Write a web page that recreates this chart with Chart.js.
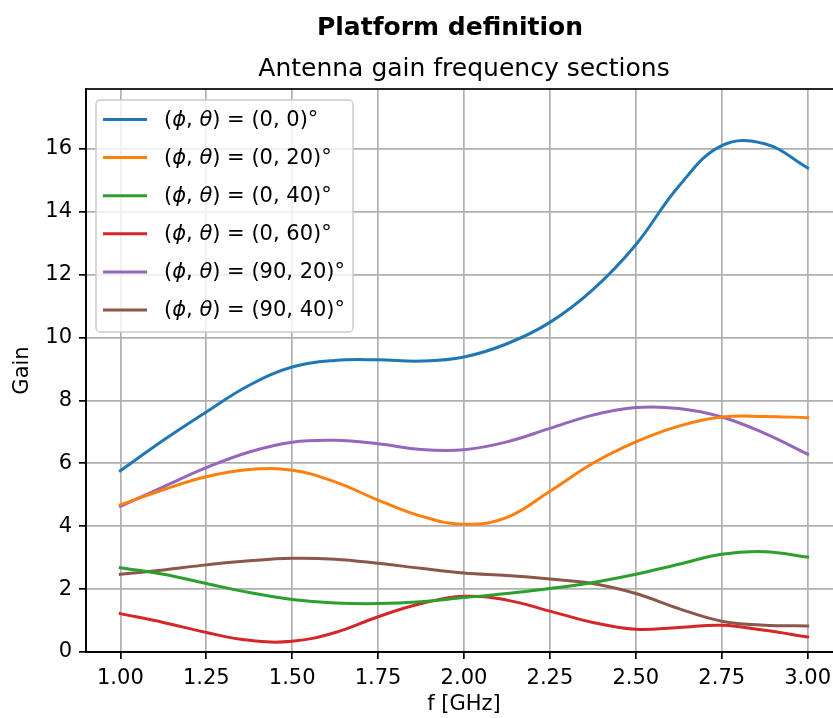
<!DOCTYPE html>
<html lang="en">
<head>
<meta charset="UTF-8">
<title>Platform definition</title>
<script src="https://cdn.jsdelivr.net/npm/chart.js"></script>
<style>
    html, body {
        margin: 0;
        padding: 0;
        background: #fff;
        overflow: hidden;
    }
    .chart-box {
        position: relative;
        width: 900px;  /* wider than the window: right edge of the axes is cut off like the reference */
        height: 718px;
    }
</style>
</head>
<body>
<div class="chart-box"><canvas id="gainChart"></canvas></div>
<script>
    // frequency samples [GHz]
    const freqs = [1.0, 1.125, 1.25, 1.375, 1.5, 1.625, 1.75, 1.875, 2.0,
                   2.125, 2.25, 2.375, 2.5, 2.625, 2.75, 2.875, 3.0];

    // gain per (phi, theta) cut
    const gain_0_0   = [5.76, 6.73, 7.63, 8.48, 9.06, 9.27, 9.29, 9.25, 9.38, 9.80, 10.48, 11.52, 12.95, 14.81, 16.10, 16.16, 15.39];
    const gain_0_20  = [4.68, 5.16, 5.57, 5.80, 5.78, 5.41, 4.83, 4.32, 4.06, 4.28, 5.11, 6.00, 6.68, 7.18, 7.47, 7.49, 7.45];
    const gain_0_40  = [2.68, 2.47, 2.18, 1.89, 1.67, 1.56, 1.54, 1.60, 1.73, 1.86, 2.02, 2.21, 2.47, 2.79, 3.11, 3.19, 3.02];
    const gain_0_60  = [1.22, 0.94, 0.62, 0.37, 0.34, 0.62, 1.12, 1.54, 1.77, 1.65, 1.30, 0.94, 0.72, 0.78, 0.85, 0.69, 0.48];
    const gain_90_20 = [4.63, 5.25, 5.86, 6.36, 6.67, 6.73, 6.62, 6.44, 6.43, 6.68, 7.11, 7.53, 7.77, 7.74, 7.47, 6.95, 6.29];
    const gain_90_40 = [2.47, 2.61, 2.77, 2.90, 2.98, 2.95, 2.82, 2.66, 2.51, 2.43, 2.32, 2.18, 1.86, 1.38, 0.98, 0.85, 0.83];

    const seriesLabels = [
        '(ϕ, θ) = (0, 0)°',
        '(ϕ, θ) = (0, 20)°',
        '(ϕ, θ) = (0, 40)°',
        '(ϕ, θ) = (0, 60)°',
        '(ϕ, θ) = (90, 20)°',
        '(ϕ, θ) = (90, 40)°'
    ];
    const seriesColors = ['#1f77b4', '#ff7f0e', '#2ca02c', '#d62728', '#9467bd', '#8c564b'];

    const xTicks = [1.0, 1.25, 1.5, 1.75, 2.0, 2.25, 2.5, 2.75, 3.0];
    const yTicks = [0, 2, 4, 6, 8, 10, 12, 14, 16];

    const FONT = 'DejaVu Sans';
    Chart.defaults.font.family = FONT;
    Chart.defaults.font.size = 21;
    Chart.defaults.color = '#000';

    const allGains = [gain_0_0, gain_0_20, gain_0_40, gain_0_60, gain_90_20, gain_90_40];
    const datasets = allGains.map((g, i) => ({
        label: seriesLabels[i],
        data: freqs.map((f, j) => ({ x: f, y: g[j] })),
        borderColor: seriesColors[i],
        backgroundColor: seriesColors[i],
        borderWidth: 3,
        borderCapStyle: 'square',
        pointRadius: 0,
        tension: 0.4,
        fill: false
    }));

    // top spine, legend box and titles (matplotlib look)
    const decorations = {
        id: 'decorations',
        afterDraw(chart) {
            const ctx = chart.ctx;
            const a = chart.chartArea;
            ctx.save();

            ctx.strokeStyle = '#000';
            ctx.lineWidth = 1.7;
            ctx.strokeRect(a.left, a.top, a.right - a.left, a.bottom - a.top);

            // legend
            const lx = a.left + 10, ly = a.top + 11, lw = 257, lh = 232;
            ctx.beginPath();
            ctx.roundRect(lx, ly, lw, lh, 4);
            ctx.fillStyle = 'rgba(255,255,255,0.8)';
            ctx.fill();
            ctx.strokeStyle = '#cccccc';
            ctx.lineWidth = 1.5;
            ctx.stroke();

            ctx.textBaseline = 'middle';
            ctx.textAlign = 'left';
            seriesLabels.forEach((lab, i) => {
                const ry = ly + 19.5 + i * 38.1;
                ctx.beginPath();
                ctx.moveTo(lx + 7, ry);
                ctx.lineTo(lx + 51, ry);
                ctx.strokeStyle = seriesColors[i];
                ctx.lineWidth = 3;
                ctx.stroke();

                let tx = lx + 68;
                ctx.fillStyle = '#000';
                for (const ch of lab) {
                    const greek = (ch === 'ϕ' || ch === 'θ');
                    ctx.font = (greek ? 'italic ' : '') + '21px "' + FONT + '"';
                    ctx.fillText(ch, tx, ry + 1);
                    tx += ctx.measureText(ch).width;
                }
            });

            // titles
            ctx.fillStyle = '#000';
            ctx.textAlign = 'center';
            ctx.textBaseline = 'alphabetic';
            ctx.font = 'bold 25px "' + FONT + '"';
            ctx.fillText('Platform definition', 450, 35);
            ctx.font = '25px "' + FONT + '"';
            ctx.fillText('Antenna gain frequency sections', (a.left + a.right) / 2, 75.5);

            ctx.restore();
        }
    };

    const ctx = document.getElementById('gainChart').getContext('2d');
    new Chart(ctx, {
        type: 'line',
        data: { datasets: datasets },
        options: {
            responsive: true,
            maintainAspectRatio: false,
            animation: false,
            layout: { padding: { left: 0, right: 58, top: 89, bottom: 0 } },
            plugins: {
                legend: { display: false },
                tooltip: { enabled: false }
            },
            scales: {
                x: {
                    type: 'linear',
                    min: 0.9,
                    max: 3.1,
                    afterBuildTicks: axis => { axis.ticks = xTicks.map(v => ({ value: v })); },
                    afterFit: axis => { axis.height = 66; },
                    ticks: {
                        padding: 7,
                        color: '#000',
                        maxRotation: 0,
                        callback: v => Number(v).toFixed(2)
                    },
                    grid: { color: '#b0b0b0', lineWidth: 1.7, tickColor: '#000', tickLength: 7, tickWidth: 1.7 },
                    border: { display: true, color: '#000', width: 1.7 },
                    title: { display: true, text: 'f [GHz]', color: '#000', padding: { top: 0, bottom: 1 } }
                },
                y: {
                    type: 'linear',
                    min: 0,
                    max: 17.9,
                    afterBuildTicks: axis => { axis.ticks = yTicks.map(v => ({ value: v })); },
                    afterFit: axis => { axis.width = 86; },
                    ticks: {
                        padding: 7,
                        color: '#000',
                        callback: v => String(v)
                    },
                    grid: { color: '#b0b0b0', lineWidth: 1.7, tickColor: '#000', tickLength: 7, tickWidth: 1.7 },
                    border: { display: true, color: '#000', width: 1.7 },
                    title: { display: true, text: 'Gain', color: '#000', padding: { top: 10, bottom: 0 } }
                }
            }
        },
        plugins: [decorations]
    });
</script>
</body>
</html>
